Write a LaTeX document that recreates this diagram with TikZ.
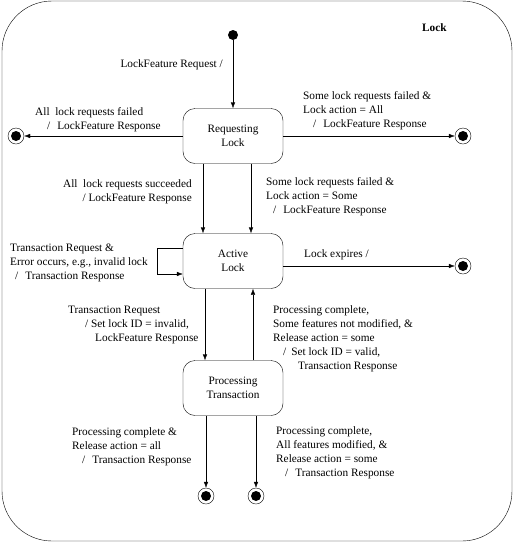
\documentclass[tikz,border=0pt]{standalone}
\usepackage{fontspec}
\setmainfont{Liberation Serif}
\usetikzlibrary{arrows.meta}
\begin{document}
\begin{tikzpicture}[x=1pt,y=-1pt,
	every node/.style={font=\fontsize{11.3pt}{14pt}\selectfont},
	state/.style={draw, rounded corners=12pt, minimum width=100pt, minimum height=55pt, align=center, inner sep=0pt},
	initial/.style={circle, fill, minimum size=10pt, inner sep=0pt},
	final/.style={circle, draw, minimum size=16pt, inner sep=0pt, path picture={\fill (path picture bounding box.center) circle (5pt);}},
	trans/.style={-{Latex[length=6pt,width=4.5pt]}},
	lbl/.style={inner sep=0pt, align=left, anchor=base west}]
	\useasboundingbox (0,0) rectangle (514,558);
	% outer superstate
	\draw [rounded corners=50pt] (2,1) rectangle (512,541);
	\node[font=\fontsize{11.3pt}{14pt}\selectfont\bfseries, inner sep=0pt, anchor=base west] (title) at (422,31) {Lock};
	% states
	\node[initial] (init) at (233,35) {};
	\node[state] (req) at (233,136) {Requesting\\Lock};
	\node[state] (act) at (233,261) {Active\\Lock};
	\node[state] (proc) at (233,388) {Processing\\Transaction};
	\node[final] (fleft) at (16,136) {};
	\node[final] (fright) at (463,136) {};
	\node[final] (fexp) at (463,266) {};
	\node[final] (fall) at (206,496) {};
	\node[final] (fsome) at (256,496) {};
	% transitions
	\draw [trans] (init) -- (req);
	\draw [trans] (req) -- (fleft);
	\draw [trans] (req) -- (fright);
	\draw [trans] ([xshift=-30pt]req.south) -- ([xshift=-30pt]act.north);
	\draw [trans] ([xshift=18pt]req.south) -- ([xshift=18pt]act.north);
	\draw [trans] ([yshift=13pt]act.west) -- ++(-26,0) |- ([yshift=-13pt]act.west);
	\draw [trans] ([yshift=-5pt]act.east) -- (fexp);
	\draw [trans] ([xshift=-28pt]act.south) -- ([xshift=-28pt]proc.north);
	\draw [trans] ([xshift=20pt]proc.north) -- ([xshift=20pt]act.south);
	\draw [trans] ([xshift=-27pt]proc.south) -- (fall);
	\draw [trans] ([xshift=23pt]proc.south) -- (fsome);
	% labels (base = last line)
	\node[lbl, anchor=base east] (lreq) at (223,67) {LockFeature Request /};
	\node[lbl] (lfail) at (35,129) {All\ \ lock requests failed\\\hspace*{12pt}/\hspace{7pt}LockFeature Response};
	\node[lbl] (lfailall) at (303,127) {Some lock requests failed \&\\Lock action = All\\\hspace*{10pt}/\hspace{7pt}LockFeature Response};
	\node[lbl, align=right, anchor=base east] (lok) at (192,201) {All\ \ lock requests succeeded\\/ LockFeature Response};
	\node[lbl] (lfailsome) at (266,213) {Some lock requests failed \&\\Lock action = Some\\\hspace*{7pt}/\hspace{7pt}LockFeature Response};
	\node[lbl] (lerr) at (10,279) {Transaction Request \&\\Error occurs, e.g., invalid lock\\\hspace*{5pt}/\hspace{7pt}Transaction Response};
	\node[lbl] (lexp) at (304,257) {Lock expires /};
	\node[lbl] (ltrans) at (68,341) {Transaction Request\\\hspace*{17pt}/ Set lock ID = invalid,\\\hspace*{27pt}LockFeature Response};
	\node[lbl] (lback) at (273,369) {Processing complete,\\Some features not modified, \&\\Release action = some\\\hspace*{10pt}/\hspace{5pt}Set lock ID = valid,\\\hspace*{25pt}Transaction Response};
	\node[lbl] (ldoneall) at (72,463) {Processing complete \&\\Release action = all\\\hspace*{10pt}/\hspace{7pt}Transaction Response};
	\node[lbl] (ldonesome) at (276,476) {Processing complete,\\All features modified, \&\\Release action = some\\\hspace*{9pt}/\hspace{7pt}Transaction Response};
\end{tikzpicture}
\end{document}
